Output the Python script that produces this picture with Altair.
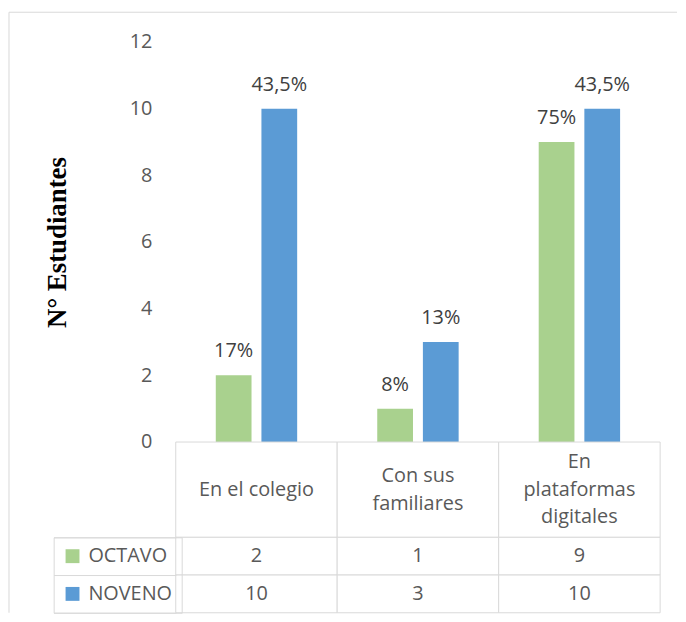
import altair as alt
import pandas as pd

categories = ["En el colegio", "Con sus familiares", "En plataformas digitales"]
header_labels = ["En el colegio", "Con sus\nfamiliares", "En\nplataformas\ndigitales"]
series = ["OCTAVO", "NOVENO"]
octavo = [2, 1, 9]
noveno = [10, 3, 10]
octavo_pct = ["17%", "8%", "75%"]
noveno_pct = ["43,5%", "13%", "43,5%"]
y_ticks = [0, 2, 4, 6, 8, 10, 12]
colors = ["#A9D18E", "#5B9BD5"]

rows = []
for i, c in enumerate(categories):
    rows.append({"cat": c, "serie": "OCTAVO", "n": octavo[i], "pct": octavo_pct[i]})
    rows.append({"cat": c, "serie": "NOVENO", "n": noveno[i], "pct": noveno_pct[i]})
df = pd.DataFrame(rows)
hdr = pd.DataFrame({
    "cat": categories,
    "label": header_labels,
    "nlines": [lab.count("\n") + 1 for lab in header_labels],
})
frame_df = pd.DataFrame({"k": [0]})

FONT = "Open Sans"
GRAY = "#595959"
BORDER = "#D9D9D9"
W = 488
H_PLOT = 403
H_HEAD = 96
H_ROWS = 76
LINE_H = 28

xcat = alt.X("cat:N", sort=categories, scale=alt.Scale(paddingInner=0, paddingOuter=0), axis=None)
xoff = alt.XOffset("serie:N", sort=series, scale=alt.Scale(paddingInner=0.217, paddingOuter=0.877))
color = alt.Color(
    "serie:N", sort=series, scale=alt.Scale(domain=series, range=colors),
    legend=alt.Legend(
        title=None, orient="none", legendX=-123, legendY=H_PLOT + H_HEAD, direction="vertical",
        symbolType="square", symbolSize=196, symbolStrokeWidth=0,
        labelFont=FONT, labelFontSize=20, labelColor=GRAY, labelOffset=6,
        padding=9, rowPadding=18, strokeColor=BORDER,
    ),
)

base = alt.Chart(df)
bars = base.mark_bar().encode(
    x=xcat, xOffset=xoff,
    y=alt.Y("n:Q", scale=alt.Scale(domain=[0, 12], nice=False),
            axis=alt.Axis(values=y_ticks, domain=False, ticks=False, grid=False,
                          labelFont=FONT, labelFontSize=20, labelColor=GRAY, labelPadding=24,
                          title="N° Estudiantes", titleFont="Liberation Serif", titleFontSize=27,
                          titleFontWeight="bold", titleColor="black", titlePadding=58)),
    color=color,
)
labels = base.mark_text(dy=-24, fontSize=20, font=FONT, color="#404040").encode(
    x=xcat, xOffset=xoff, y="n:Q", text="pct:N"
)
frame_top = alt.Chart(frame_df).mark_rule(color=BORDER, strokeWidth=1).encode(
    x=alt.value(-168), x2=alt.value(505), y=alt.value(-30)
)
frame_left = alt.Chart(frame_df).mark_rule(color=BORDER, strokeWidth=1).encode(
    x=alt.value(-168), y=alt.value(-30), y2=alt.value(H_PLOT + H_HEAD + H_ROWS)
)
A = alt.layer(frame_top, frame_left, bars, labels).properties(width=W, height=H_PLOT)

header_cells = alt.Chart(hdr).mark_rect(fill="white", stroke=BORDER, strokeWidth=1).encode(x=xcat)
header_texts = [
    alt.Chart(hdr).transform_filter(f"datum.nlines == {k}").mark_text(
        font=FONT, fontSize=20, color=GRAY, lineBreak="\n", lineHeight=LINE_H,
        baseline="middle", dy=-(k - 1) * LINE_H / 2,
    ).encode(x=xcat, text="label:N")
    for k in (1, 2, 3)
]
B = alt.layer(header_cells, *header_texts).properties(width=W, height=H_HEAD)

yrow = alt.Y("serie:N", sort=series, scale=alt.Scale(paddingInner=0, paddingOuter=0),
             axis=alt.Axis(labels=False, domain=False, ticks=True, tickSize=123, tickColor=BORDER,
                           bandPosition=1, tickExtra=True, title=None, grid=False))
C = alt.layer(
    base.mark_rect(fill="white", stroke=BORDER, strokeWidth=1).encode(x=xcat, y=yrow),
    base.mark_text(font=FONT, fontSize=20, color=GRAY).encode(x=xcat, y=yrow, text="n:Q"),
).properties(width=W, height=H_ROWS)

chart = alt.vconcat(A, B, C, spacing=0, bounds="flush").properties(
    padding={"left": 0, "top": 1, "right": 0, "bottom": 0}
).configure(font=FONT).configure_view(stroke=None)

chart.save("out.html", embed_options={"renderer": "svg", "actions": False})
